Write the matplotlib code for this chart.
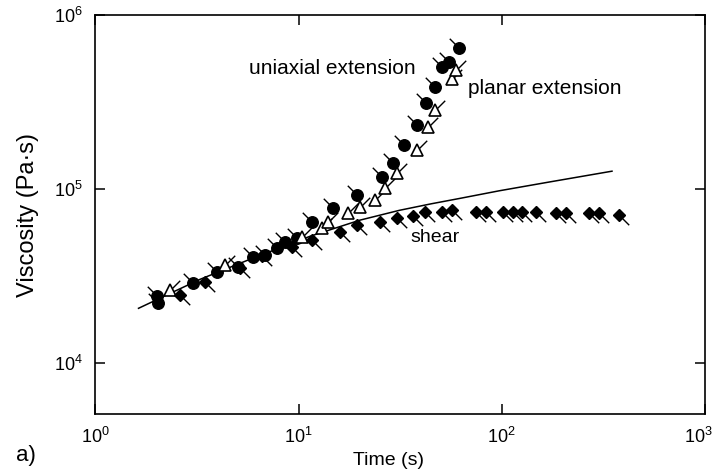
import matplotlib
matplotlib.use("Agg")
import matplotlib.pyplot as plt
from matplotlib.path import Path
from matplotlib.transforms import ScaledTranslation

plt.rcParams['font.family'] = ['Liberation Sans', 'DejaVu Sans']
plt.rcParams['mathtext.default'] = 'regular'

# uniaxial extension (filled circles)
t_uni = [2.02, 2.04, 3.03, 3.97, 5.03, 5.97, 6.84, 7.82, 8.57, 9.81, 11.7, 14.7,
         19.3, 25.7, 29.0, 32.9, 38.1, 42.2, 46.7, 51.1, 55.3, 61.9]
eta_uni = [24300, 22100, 28800, 33300, 35600, 40700, 41800, 45800, 49600, 52300, 64600, 77800,
           92400, 117000, 141000, 179000, 233000, 312000, 385000, 502000, 537000, 646000]

# planar extension (open triangles)
t_pla = [2.33, 4.35, 10.4, 13.0, 13.9, 17.5, 20.0, 23.7, 26.5, 30.4, 38.1, 43.2, 46.7, 57.2, 59.8]
eta_pla = [26300, 36500, 53000, 59700, 64600, 72800, 78800, 86500, 101000, 124000,
           167000, 227000, 284000, 429000, 483000]

# shear (filled diamonds)
t_she = [2.61, 3.47, 5.15, 6.60, 9.27, 11.7, 16.0, 19.5, 25.1, 30.4, 36.4, 41.7, 51.1, 57.2,
         75.0, 84.0, 101, 113, 126, 148, 185, 207, 269, 301, 378]
eta_she = [24600, 29200, 35200, 41200, 46400, 50900, 56600, 62100, 64600, 68100, 70000, 73800,
           73800, 75700, 73800, 73800, 73800, 73800, 73800, 73800, 72800, 72800, 72800, 72800, 71000]

# linear viscoelastic envelope (solid line)
t_lve = [1.63, 2.33, 3.28, 5.77, 11.4, 20.0, 31.4, 45.0, 61.9, 97.3, 171, 349]
eta_lve = [20700, 25200, 30400, 39600, 53700, 66400, 75700, 82500, 88500, 98000, 110000, 127000]

xticks = [1, 10, 100, 1000]
xticklabels = ['$10^0$', '$10^1$', '$10^2$', '$10^3$']
yticks = [1e4, 1e5, 1e6]
yticklabels = ['$10^4$', '$10^5$', '$10^6$']

# short "tail" markers attached to each symbol
tail_ul = Path([(0, 0), (-1, 1)], [Path.MOVETO, Path.LINETO])
tail_ur = Path([(0, 0), (1, 1)], [Path.MOVETO, Path.LINETO])
tail_dr = Path([(0, 0), (1, -1)], [Path.MOVETO, Path.LINETO])

fig = plt.figure(figsize=(7.12, 4.75), dpi=100)
ax = fig.add_axes([0.134, 0.128, 0.856, 0.84])

ax.plot(t_lve, eta_lve, color='black', lw=1.1, zorder=2)

ax.plot(t_uni, eta_uni, ls='none', marker=tail_ul, ms=14, mec='black', mew=1.0, zorder=3)
ax.plot(t_uni, eta_uni, ls='none', marker='o', ms=8.3, mfc='black', mec='black', zorder=4)

ax.plot(t_pla, eta_pla, ls='none', marker=tail_ur, ms=14, mec='black', mew=1.0, zorder=3)
ax.plot(t_pla, eta_pla, ls='none', marker='^', ms=8.5, mfc='white', mec='black', mew=1.2, zorder=4)

ax.plot(t_she, eta_she, ls='none', marker=tail_dr, ms=14, mec='black', mew=1.0, zorder=3)
ax.plot(t_she, eta_she, ls='none', marker='D', ms=6.3, mfc='black', mec='black', zorder=4)

ax.set_xscale('log')
ax.set_yscale('log')
ax.set_xlim(1, 1000)
ax.set_ylim(5100, 1e6)

ax.set_xticks(xticks)
ax.set_xticklabels(xticklabels[:-1] + [''])
ax.set_yticks(yticks)
ax.set_yticklabels(yticklabels)
ax.minorticks_off()
ax.tick_params(which='major', direction='in', length=7, width=1.1, top=True, right=True,
               labelsize=13, pad=9)
# last x label drawn separately, nudged left so it stays inside the figure
ax.text(xticks[-1], 0, xticklabels[-1], fontsize=13, ha='center', va='top',
        transform=ax.get_xaxis_transform() + ScaledTranslation(-0.07, -9 / 72, fig.dpi_scale_trans))

for s in ax.spines.values():
    s.set_linewidth(1.2)

ax.set_xlabel('Time (s)', fontsize=14)
ax.xaxis.set_label_coords(0.481, -0.095)
ax.set_ylabel('Viscosity (Pa·s)', fontsize=17, labelpad=11)

ax.text(14.7, 496000, 'uniaxial extension', fontsize=15, ha='center', va='center')
ax.text(162, 380000, 'planar extension', fontsize=15, ha='center', va='center')
ax.text(46.7, 53000, 'shear', fontsize=14, ha='center', va='center')

fig.text(0.022, 0.04, 'a)', fontsize=16, ha='left', va='center')

fig.savefig('out.png', dpi=100)
